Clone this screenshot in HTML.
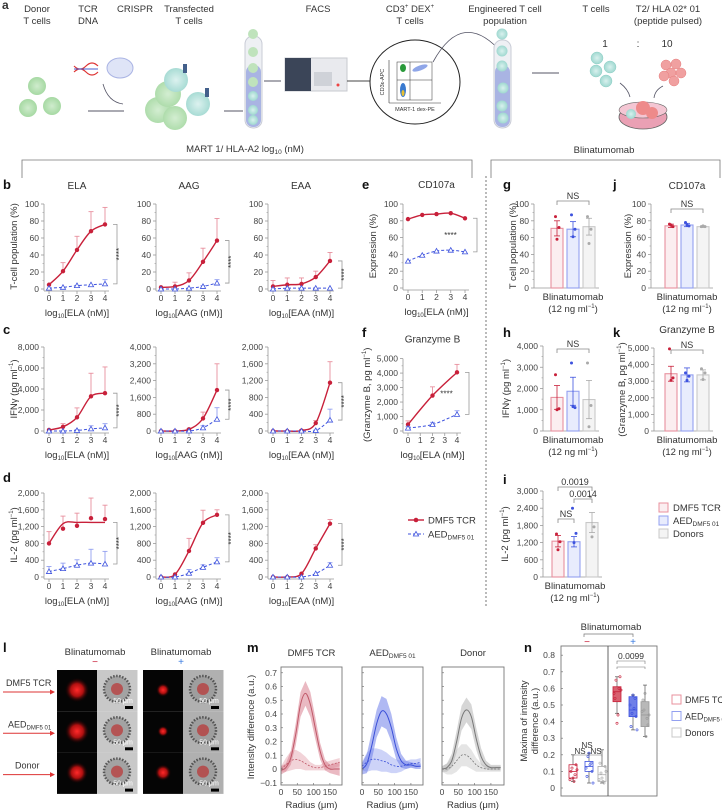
<!DOCTYPE html>
<html><head><meta charset="utf-8">
<style>
html,body{margin:0;padding:0;background:#fff;}
svg{display:block;font-family:"Liberation Sans",sans-serif;}
</style></head>
<body>
<svg id="fig" width="722" height="812" viewBox="0 0 722 812" xmlns="http://www.w3.org/2000/svg">
<defs>
<radialGradient id="gcell" cx="50%" cy="50%" r="50%"><stop offset="0" stop-color="#cfeccd"/><stop offset="1" stop-color="#a6d9a3"/></radialGradient>
<radialGradient id="tcell" cx="50%" cy="50%" r="50%"><stop offset="0" stop-color="#d9f1ee"/><stop offset="1" stop-color="#9fd8d0"/></radialGradient>
<radialGradient id="redblob" cx="50%" cy="50%" r="50%"><stop offset="0" stop-color="#ff2a2a"/><stop offset="0.5" stop-color="#b01010"/><stop offset="1" stop-color="#000" stop-opacity="0"/></radialGradient>
</defs>
<!-- schematic a -->
<g font-size="9.5" fill="#333" text-anchor="middle">
<text x="2" y="9" font-size="12" font-weight="bold" text-anchor="start">a</text>
<text x="37" y="12">Donor</text><text x="37" y="24">T cells</text>
<text x="88" y="12">TCR</text><text x="88" y="24">DNA</text>
<text x="135" y="12">CRISPR</text>
<text x="189" y="12">Transfected</text><text x="189" y="24">T cells</text>
<text x="318" y="12">FACS</text>
<text x="410" y="12">CD3<tspan font-size="6" dy="-4">+</tspan><tspan dy="4"> DEX</tspan><tspan font-size="6" dy="-4">+</tspan></text><text x="410" y="24">T cells</text>
<text x="505" y="12">Engineered T cell</text><text x="505" y="24">population</text>
<text x="596" y="12">T cells</text>
<text x="668" y="12">T2/ HLA 02* 01</text><text x="668" y="24">(peptide pulsed)</text>
<g fill="url(#gcell)"><circle cx="37" cy="86" r="9"/><circle cx="52" cy="106" r="9"/><circle cx="28" cy="108" r="9"/></g>
<g><path d="M74 72 q6 -6 12 0 t12 0 M74 66 q6 6 12 0 t12 0" stroke="#d33" stroke-width="1.2" fill="none"/><path d="M74 69 h24" stroke="#4a5fd0" stroke-width="1"/><ellipse cx="120" cy="68" rx="13" ry="10" fill="#dfe4f7" stroke="#aab4e4"/></g>
<path d="M103 84 q5 18 20 20" stroke="#556" fill="none" stroke-width="0.8"/>
<line x1="88" y1="111" x2="124" y2="111" stroke="#556" stroke-width="0.9"/>
<g fill="url(#gcell)" opacity="0.9"><circle cx="158" cy="110" r="13"/><circle cx="168" cy="94" r="13"/><circle cx="176" cy="80" r="12" fill="url(#tcell)"/><circle cx="198" cy="104" r="12" fill="url(#tcell)"/><circle cx="175" cy="118" r="12"/><rect x="183" y="64" width="4" height="9" fill="#2f4f7f"/><rect x="205" y="88" width="4" height="9" fill="#2f4f7f"/></g>
<line x1="224" y1="111" x2="243" y2="111" stroke="#556" stroke-width="0.9"/>
<g><rect x="245" y="36" width="17" height="92" rx="8" fill="#eef0f4" stroke="#c9ccd6"/><rect x="246" y="65" width="15" height="62" rx="7" fill="#a9b4e3"/><circle cx="253" cy="34" r="5" fill="#bfe3bc"/><circle cx="253" cy="52" r="5" fill="#bfe3bc"/><circle cx="253" cy="68" r="5" fill="#bfe3bc"/><circle cx="253" cy="82" r="5" fill="#bfe3bc"/><circle cx="253" cy="96" r="5" fill="url(#tcell)"/><circle cx="253" cy="110" r="5" fill="url(#tcell)"/><circle cx="253" cy="120" r="5" fill="url(#tcell)"/></g>
<line x1="264" y1="81" x2="281" y2="81" stroke="#556" stroke-width="0.9"/>
<g><rect x="285" y="58" width="62" height="33" fill="#e9eaee" stroke="#c7c9cf"/><rect x="285" y="58" width="26" height="33" fill="#3b4558"/><rect x="314" y="72" width="18" height="14" fill="#cfd2d8"/><circle cx="338" cy="85" r="1.5" fill="#e44"/></g>
<line x1="347" y1="81" x2="370" y2="81" stroke="#444" stroke-width="0.9"/>
<g><ellipse cx="415" cy="82" rx="45" ry="42" fill="#fff" stroke="#222" stroke-width="1"/><line x1="389" y1="60" x2="389" y2="103" stroke="#333" stroke-width="0.6"/><line x1="389" y1="103" x2="441" y2="103" stroke="#333" stroke-width="0.6"/><rect x="397" y="62" width="35" height="38" fill="none" stroke="#333" stroke-width="0.5"/><line x1="410" y1="62" x2="410" y2="100" stroke="#333" stroke-width="0.5"/><line x1="397" y1="80" x2="432" y2="80" stroke="#333" stroke-width="0.5"/><ellipse cx="403" cy="68" rx="3" ry="4" fill="#2a9a3a"/><ellipse cx="403" cy="90" rx="3" ry="7" fill="#3a7ad0"/><ellipse cx="403" cy="93" rx="1.5" ry="3" fill="#e8c030"/><ellipse cx="420" cy="68" rx="8" ry="2.5" fill="#8fa6e8" transform="rotate(-20 420 68)"/><text x="415" y="111" font-size="5.5">MART-1 dex-PE</text><text x="384" y="82" font-size="5.5" transform="rotate(-90 384 82)">CD3ε-APC</text></g>
<path d="M433 62 q30 -55 70 -8" stroke="#556" fill="none" stroke-width="0.8"/>
<g><rect x="494" y="40" width="17" height="88" rx="8" fill="#eef0f4" stroke="#c9ccd6"/><rect x="495" y="65" width="15" height="62" rx="7" fill="#a9b4e3"/><circle cx="502" cy="34" r="5.5" fill="url(#tcell)"/><circle cx="502" cy="51" r="5.5" fill="url(#tcell)"/><circle cx="502" cy="66" r="5.5" fill="url(#tcell)"/><circle cx="503" cy="88" r="5.5" fill="url(#tcell)"/><circle cx="502" cy="106" r="5.5" fill="url(#tcell)"/><circle cx="503" cy="118" r="5.5" fill="url(#tcell)"/></g>
<line x1="532" y1="73" x2="559" y2="73" stroke="#556" stroke-width="0.9"/>
<text x="605" y="47" font-size="10">1</text><text x="638" y="47" font-size="10">:</text><text x="667" y="47" font-size="10">10</text>
<g fill="url(#tcell)" stroke="#8fcfc6" stroke-width="0.5"><circle cx="597" cy="58" r="6"/><circle cx="610" cy="67" r="6"/><circle cx="596" cy="71" r="6"/><circle cx="606" cy="81" r="6"/></g>
<g fill="#f0a0a0" stroke="#e67c7c" stroke-width="0.5"><circle cx="666" cy="65" r="5"/><circle cx="676" cy="64" r="5"/><circle cx="671" cy="73" r="5"/><circle cx="681" cy="73" r="5"/><circle cx="664" cy="76" r="5"/><circle cx="674" cy="81" r="5"/></g>
<path d="M620 83 q8 6 10 14 M663 86 q-8 4 -9 12" stroke="#556" fill="none" stroke-width="0.8"/>
<g><ellipse cx="643" cy="117" rx="24" ry="12" fill="#eaa0b4" stroke="#666" stroke-width="0.8"/><ellipse cx="643" cy="110" rx="24" ry="8" fill="#f4c6d3" stroke="#666" stroke-width="0.6"/><circle cx="643" cy="108" r="7" fill="#ee8a8a"/><circle cx="652" cy="113" r="6" fill="#ee8a8a"/><circle cx="631" cy="114" r="5" fill="url(#tcell)"/></g>
</g>
<!-- brackets -->
<g stroke="#777" fill="none" stroke-width="0.8">
<path d="M22 178 V160 H472 V178"/><path d="M491 178 V160 H720 V178"/>
</g>
<text x="245" y="152" font-size="9.5" text-anchor="middle" fill="#333">MART 1/ HLA-A2 log<tspan font-size="6.5" dy="2">10</tspan><tspan dy="-2"> (nM)</tspan></text>
<text x="604" y="153" font-size="9.5" text-anchor="middle" fill="#333">Blinatumomab</text>
<line x1="486" y1="176" x2="486" y2="606" stroke="#555" stroke-width="0.8" stroke-dasharray="2,2"/>
</svg>
<script>
// ---------- data ----------
const doseX=[0,1,2,3,4];
const bElaRed=[5,21,46,68,76], bElaRedErr=[0,10,16,23,20], bElaBlue=[1,2,4,5,6], bElaBlueErr=[0,0,0,0,5];
const bAagRed=[2,3,10,32,57], bAagRedErr=[0,5,9,16,26], bAagBlue=[0,0,1,3,7], bAagBlueErr=[0,0,0,1,4];
const bEaaRed=[3,5,6,14,33], bEaaRedErr=[7,8,7,7,10], bEaaBlue=[0,1,1,1,1], bEaaBlueErr=[0,0,0,0,0];
const cElaRed=[100,400,1300,3300,3600], cElaRedErr=[0,300,900,2200,2500], cElaBlue=[0,0,50,200,300], cElaBlueErr=[0,0,100,300,400];
const cAagRed=[0,0,80,600,1950], cAagRedErr=[0,0,40,300,1250], cAagBlue=[0,0,0,150,560], cAagBlueErr=[0,0,30,100,550];
const cEaaRed=[0,0,10,190,1150], cEaaRedErr=[0,0,20,60,500], cEaaBlue=[0,0,0,10,260], cEaaBlueErr=[0,0,0,10,260];
const dElaRed=[800,1150,1220,1400,1380], dElaRedErr=[280,300,300,480,330], dElaRedFit=[800,1270,1300,1300,1300], dElaBlue=[130,200,280,330,310], dElaBlueErr=[120,130,130,330,300];
const dAagRed=[0,60,620,1290,1480], dAagRedErr=[0,0,300,300,120], dAagBlue=[0,0,90,230,360], dAagBlueErr=[0,0,90,60,100];
const dEaaRed=[0,0,80,680,1270], dEaaRedErr=[0,0,0,90,100], dEaaBlue=[0,0,0,80,280], dEaaBlueErr=[0,0,0,0,60];
const eRed=[82,87,88,89,83], eBlue=[32,39,44,45,43];
const fX=[0,2,4], fRed=[450,2450,4050], fRedErr=[250,600,550], fBlue=[200,450,1150], fBlueErr=[100,150,250];
const ticksPct=[0,20,40,60,80,100];
const ticksC1=[0,2000,4000,6000,8000], ticksC2=[0,800,1600,2400,3200,4000], ticksC3=[0,400,800,1200,1600,2000];
const ticksIL2=[0,400,800,1200,1600,2000], ticksF=[0,1000,2000,3000,4000,5000];
const gMeans=[71,70,73], gErr=[9,9,10], gDots=[[85,72,58],[87,70,61],[85,70,53]];
const jMeans=[74,75,73], jErr=[2,2,1], jDots=[[76,73,75],[78,74,75],[73,73,74]];
const hMeans=[1580,1870,1480], hErr=[560,660,900], hDots=[[2650,1050,1000],[3200,1100,1150],[3200,1200,200]];
const kMeans=[3450,3380,3380], kErr=[450,420,300], kDots=[[4950,3200,3050],[3500,3300,3050],[3750,3500,3100]];
const iMeans=[1250,1230,1900], iErr=[200,180,350], iDots=[[1500,1230,950],[2400,1520,1200],[2800,1750,1400]];
const ticksH=[0,1000,2000,3000,4000], ticksI=[0,600,1200,1800,2400,3000];
const mR=[0,15,30,45,60,75,90,105,120,135,150,165,180];
const mDmfSolid=[-0.01,0.01,0.08,0.25,0.47,0.55,0.47,0.30,0.13,0.03,0.0,0.0,0.0];
const mDmfSolidSd=[0.03,0.03,0.05,0.08,0.09,0.09,0.09,0.08,0.06,0.04,0.03,0.04,0.05];
const mDmfDash=[0,0.03,0.06,0.07,0.06,0.04,0.02,0.01,0.01,0.02,0.03,0.04,0.05];
const mDmfDashSd=[0.02,0.05,0.07,0.07,0.06,0.05,0.03,0.02,0.02,0.03,0.03,0.03,0.03];
const mAedSolid=[0.0,0.04,0.17,0.33,0.42,0.40,0.30,0.15,0.06,0.03,0.03,0.02,0.02];
const mAedSolidSd=[0.04,0.07,0.1,0.1,0.11,0.11,0.1,0.08,0.05,0.03,0.02,0.02,0.02];
const mAedDash=[0.02,0.05,0.07,0.07,0.06,0.05,0.03,0.02,0.02,0.03,0.04,0.04,0.05];
const mAedDashSd=[0.03,0.07,0.08,0.08,0.08,0.07,0.06,0.05,0.04,0.03,0.03,0.03,0.03];
const mDonSolid=[0,0.01,0.06,0.2,0.37,0.43,0.38,0.22,0.09,0.03,0.01,0.01,0.01];
const mDonSolidSd=[0.02,0.03,0.05,0.08,0.09,0.09,0.09,0.08,0.06,0.03,0.02,0.02,0.02];
const mDonDash=[0,0,0.02,0.06,0.1,0.1,0.07,0.03,0.01,0,0,0,0];
const mDonDashSd=[0.02,0.04,0.06,0.08,0.08,0.08,0.07,0.05,0.03,0.02,0.02,0.02,0.02];
const mTicksY=[-0.1,0,0.1,0.2,0.3,0.4,0.5,0.6,0.7], mTicksX=[0,50,100,150];
const nTicks=[0,0.1,0.2,0.3,0.4,0.5,0.6,0.7,0.8];
const nBoxLo=[0.04,0.03,0.03,0.45,0.35,0.31], nQ1=[0.06,0.10,0.04,0.52,0.43,0.37], nMed=[0.10,0.13,0.08,0.58,0.47,0.44], nQ3=[0.14,0.16,0.13,0.61,0.55,0.52], nBoxHi=[0.20,0.21,0.23,0.67,0.56,0.62];
const nDots=[[0.05,0.08,0.12,0.14,0.10,0.04,0.06,0.11],[0.12,0.15,0.19,0.10,0.07,0.14,0.21,0.03],[0.05,0.03,0.09,0.13,0.15,0.04,0.06,0.10],[0.57,0.60,0.65,0.67,0.54,0.44,0.39,0.59],[0.50,0.54,0.45,0.43,0.37,0.48,0.56,0.35],[0.46,0.42,0.47,0.38,0.53,0.31,0.57,0.44]];

// ---------- helpers ----------
const NS='http://www.w3.org/2000/svg';
const svg=document.getElementById('fig');
const RED='#c8203a', RED_L='#e8909e', BLUE='#3d52de', BLUE_L='#93a0f0', GREY='#999', GREY_L='#c8c8c8';
function mk(tag,attrs,name,parent){
  const el=document.createElementNS(NS,tag);
  for(const k in attrs) el.setAttribute(k,attrs[k]);
  
  
  (parent||svg).appendChild(el);
  return el;
}
function txt(x,y,s,o,name,parent){
  o=o||{};
  const a={x:x,y:y,'font-size':o.size||8.5,'text-anchor':o.anchor||'middle',fill:o.fill||'#444'};
  if(o.weight) a['font-weight']=o.weight;
  if(o.rot) a.transform='rotate(-90 '+x+' '+y+')';
  const el=mk('text',a,name,parent);
  el.innerHTML=s;
  return el;
}
function fmt(v){return v.toLocaleString('en-US');}
function smooth(pts){
  let d='M'+pts[0][0]+','+pts[0][1];
  for(let i=0;i<pts.length-1;i++){
    const p0=pts[Math.max(i-1,0)],p1=pts[i],p2=pts[i+1],p3=pts[Math.min(i+2,pts.length-1)];
    const c1x=p1[0]+(p2[0]-p0[0])/6,c1y=p1[1]+(p2[1]-p0[1])/6,c2x=p2[0]-(p3[0]-p1[0])/6,c2y=p2[1]-(p3[1]-p1[1])/6;
    d+=' C'+c1x+','+c1y+' '+c2x+','+c2y+' '+p2[0]+','+p2[1];
  }
  return d;
}
const sub10=(s)=>'log<tspan font-size="6" dy="2">10</tspan><tspan dy="-2">'+s+'</tspan>';

function linePlot(p){
  const xs=p.xs||doseX;
  const sx=v=>p.x0+v/4*(p.x4-p.x0);
  const sy=v=>p.yB-v/p.ymax*(p.yB-p.yT);
  const g=mk('g',{},p.name);
  const ax=p.x0-5;
  mk('line',{x1:ax,y1:p.yT,x2:ax,y2:p.yB+2,stroke:'#999','stroke-width':0.8},'y-axis',g);
  p.ticks.forEach((t,i)=>{
    mk('line',{x1:ax-3,y1:sy(t),x2:ax,y2:sy(t),stroke:'#999','stroke-width':0.8},'y-tick',g);
    if(i<p.ticks.length-1){const m=(t+p.ticks[i+1])/2;mk('line',{x1:ax-1.5,y1:sy(m),x2:ax,y2:sy(m),stroke:'#999','stroke-width':0.6},'y-minor-tick',g);}
    txt(ax-5,sy(t)+3,fmt(t),{anchor:'end'},'y-tick-label',g);
  });
  mk('line',{x1:ax,y1:p.yB+2,x2:p.x4+4,y2:p.yB+2,stroke:'#999','stroke-width':0.8},'x-axis',g);
  [0,1,2,3,4].forEach(v=>{
    mk('line',{x1:sx(v),y1:p.yB+2,x2:sx(v),y2:p.yB+5,stroke:'#999','stroke-width':0.8},'x-tick',g);
    txt(sx(v),p.yB+12,String(v),{},'x-tick-label',g);
  });
  txt((p.x0+p.x4)/2,p.yB+27,sub10(p.xlab),{size:9.5,fill:'#333'},'x-axis-title',g);
  if(p.ylab) txt(p.ylx,(p.yT+p.yB)/2,p.ylab,{size:9.5,rot:1,fill:'#333'},'y-axis-title',g);
  if(p.title) txt((p.x0+p.x4)/2,p.yT-16,p.title,{size:10,fill:'#333'},'panel-title',g);
  [[p.red,p.redErr,RED_L],[p.blue,p.blueErr,BLUE_L]].forEach(([m,e,c])=>{
    if(!e) return;
    m.forEach((v,i)=>{ if(e[i]>0){
      mk('line',{x1:sx(xs[i]),y1:sy(v),x2:sx(xs[i]),y2:sy(v+e[i]),stroke:c,'stroke-width':0.9},'error-bar',g);
      mk('line',{x1:sx(xs[i])-2.5,y1:sy(v+e[i]),x2:sx(xs[i])+2.5,y2:sy(v+e[i]),stroke:c,'stroke-width':0.9},'error-cap',g);
    }});
  });
  const rf=p.redFit||p.red;
  mk('path',{d:smooth(rf.map((v,i)=>[sx(xs[i]),sy(v)])),stroke:RED,'stroke-width':1.4,fill:'none'},'dmf5-fit-line',g);
  mk('path',{d:smooth(p.blue.map((v,i)=>[sx(xs[i]),sy(v)])),stroke:BLUE,'stroke-width':1,fill:'none','stroke-dasharray':'3,2'},'aed-fit-line',g);
  p.red.forEach((v,i)=>mk('circle',{cx:sx(xs[i]),cy:sy(v),r:2.2,fill:RED},'dmf5-point',g));
  p.blue.forEach((v,i)=>{const x=sx(xs[i]),y=sy(v);mk('path',{d:'M'+x+','+(y-2.6)+' L'+(x+2.6)+','+(y+2)+' L'+(x-2.6)+','+(y+2)+'Z',fill:'#fff',stroke:BLUE,'stroke-width':0.8},'aed-point',g);});
  const top=sy(rf[rf.length-1]), bot=sy(p.blue[p.blue.length-1]);
  const bx=p.x4+12;
  mk('path',{d:'M'+(bx-4)+','+top+' H'+bx+' V'+bot+' H'+(bx-4),stroke:'#999',fill:'none','stroke-width':0.8},'significance-bracket',g);
  if(p.starsH) txt((p.x0+p.x4)/2+14,(top+bot)/2+3,'****',{size:8,fill:'#333'},'significance-stars',g);
  else txt(bx+5,(top+bot)/2,'****',{size:8,rot:1,fill:'#333'},'significance-stars',g);
}

function barPlot(p){
  const sy=v=>p.yB-v/p.ymax*(p.yB-p.yT);
  const g=mk('g',{},p.name);
  const ax=p.ax;
  mk('line',{x1:ax,y1:p.yT,x2:ax,y2:p.yB,stroke:'#999','stroke-width':0.8},'y-axis',g);
  p.ticks.forEach((t,i)=>{
    mk('line',{x1:ax-3,y1:sy(t),x2:ax,y2:sy(t),stroke:'#999','stroke-width':0.8},'y-tick',g);
    if(i<p.ticks.length-1){const m=(t+p.ticks[i+1])/2;mk('line',{x1:ax-1.5,y1:sy(m),x2:ax,y2:sy(m),stroke:'#999','stroke-width':0.6},'y-minor-tick',g);}
    txt(ax-5,sy(t)+3,fmt(t),{anchor:'end'},'y-tick-label',g);
  });
  mk('line',{x1:ax,y1:p.yB,x2:p.cx[2]+10,y2:p.yB,stroke:'#999','stroke-width':0.8},'x-axis',g);
  const cols=[[RED_L,'#fbeef0',RED],[BLUE_L,'#e8ecfd',BLUE],[GREY_L,'#f4f4f4','#aaa']];
  const nm=['bar-dmf5','bar-aed','bar-donors'];
  p.means.forEach((v,i)=>{
    const c=p.cx[i];
    mk('rect',{x:c-6,y:sy(v),width:12,height:p.yB-sy(v),fill:cols[i][1],stroke:cols[i][0],'stroke-width':1.1},nm[i],g);
    mk('line',{x1:c,y1:sy(v-p.err[i]),x2:c,y2:sy(v+p.err[i]),stroke:cols[i][2],'stroke-width':0.8},'error-bar',g);
    mk('line',{x1:c-3,y1:sy(v+p.err[i]),x2:c+3,y2:sy(v+p.err[i]),stroke:cols[i][2],'stroke-width':0.8},'error-cap',g);
    mk('line',{x1:c-3,y1:sy(v-p.err[i]),x2:c+3,y2:sy(v-p.err[i]),stroke:cols[i][2],'stroke-width':0.8},'error-cap',g);
    p.dots[i].forEach((d,k)=>mk('circle',{cx:c+[-1.5,2,0][k],cy:sy(d),r:1.5,fill:cols[i][2]},'data-dot',g));
  });
  const mid=(p.cx[0]+p.cx[2])/2;
  txt(mid,p.yB+12,'Blinatumomab',{size:9.5,fill:'#333'},'x-axis-title',g);
  txt(mid,p.yB+24,'(12 ng ml<tspan font-size="6" dy="-4">−1</tspan><tspan dy="4">)</tspan>',{size:9.5,fill:'#333'},'x-axis-subtitle',g);
  txt(p.ylx,(p.yT+p.yB)/2,p.ylab,{size:9.5,rot:1,fill:'#333'},'y-axis-title',g);
  if(p.title) txt(mid,p.titleY,p.title,{size:10,fill:'#333'},'panel-title',g);
  (p.brackets||[]).forEach(b=>{
    const x1=p.cx[b[0]],x2=p.cx[b[1]],y=b[2];
    mk('path',{d:'M'+x1+','+(y+4)+' V'+y+' H'+x2+' V'+(y+4),stroke:'#888',fill:'none','stroke-width':0.8},'significance-bracket',g);
    txt((x1+x2)/2,y-2,b[3],{size:9,fill:'#333'},'significance-label',g);
  });
}

// ---------- panel letters & column titles ----------
[['b',3,189],['c',3,334],['d',3,482],['e',362,189],['f',362,337],['g',503,189],['h',503,337],['i',503,484],['j',613,189],['k',613,337],['l',3,652],['m',247,652],['n',524,652]].forEach(l=>txt(l[1],l[2],l[0],{size:13,weight:'bold',anchor:'start',fill:'#111'},'panel-label-'+l[0]));
txt(77,189,'ELA',{size:10,fill:'#333'},'column-title-ela');
txt(189,189,'AAG',{size:10,fill:'#333'},'column-title-aag');
txt(301,189,'EAA',{size:10,fill:'#333'},'column-title-eaa');

// ---------- dose-response ----------
linePlot({name:'plot-b-ela',x0:49,x4:105,yT:204,yB:289,ymax:100,ticks:ticksPct,red:bElaRed,redErr:bElaRedErr,blue:bElaBlue,blueErr:bElaBlueErr,xlab:'[ELA (nM)]',ylab:'T-cell population (%)',ylx:17});
linePlot({name:'plot-b-aag',x0:161,x4:217,yT:204,yB:289,ymax:100,ticks:ticksPct,red:bAagRed,redErr:bAagRedErr,blue:bAagBlue,blueErr:bAagBlueErr,xlab:'[AAG (nM)]'});
linePlot({name:'plot-b-eaa',x0:273,x4:330,yT:204,yB:289,ymax:100,ticks:ticksPct,red:bEaaRed,redErr:bEaaRedErr,blue:bEaaBlue,blueErr:bEaaBlueErr,xlab:'[EAA (nM)]'});
linePlot({name:'plot-c-ela',x0:49,x4:105,yT:347,yB:431,ymax:8000,ticks:ticksC1,red:cElaRed,redErr:cElaRedErr,blue:cElaBlue,blueErr:cElaBlueErr,xlab:'[ELA (nM)]',ylab:'IFNγ (pg ml<tspan font-size="6" dy="-4">−1</tspan><tspan dy="4">)</tspan>',ylx:17});
linePlot({name:'plot-c-aag',x0:161,x4:217,yT:347,yB:431,ymax:4000,ticks:ticksC2,red:cAagRed,redErr:cAagRedErr,blue:cAagBlue,blueErr:cAagBlueErr,xlab:'[AAG (nM)]'});
linePlot({name:'plot-c-eaa',x0:273,x4:330,yT:347,yB:431,ymax:2000,ticks:ticksC3,red:cEaaRed,redErr:cEaaRedErr,blue:cEaaBlue,blueErr:cEaaBlueErr,xlab:'[EAA (nM)]'});
linePlot({name:'plot-d-ela',x0:49,x4:105,yT:493,yB:577,ymax:2000,ticks:ticksIL2,red:dElaRed,redErr:dElaRedErr,redFit:dElaRedFit,blue:dElaBlue,blueErr:dElaBlueErr,xlab:'[ELA (nM)]',ylab:'IL-2 (pg ml<tspan font-size="6" dy="-4">−1</tspan><tspan dy="4">)</tspan>',ylx:17});
linePlot({name:'plot-d-aag',x0:161,x4:217,yT:493,yB:577,ymax:2000,ticks:ticksIL2,red:dAagRed,redErr:dAagRedErr,blue:dAagBlue,blueErr:dAagBlueErr,xlab:'[AAG (nM)]'});
linePlot({name:'plot-d-eaa',x0:273,x4:330,yT:493,yB:577,ymax:2000,ticks:ticksIL2,red:dEaaRed,redErr:dEaaRedErr,blue:dEaaBlue,blueErr:dEaaBlueErr,xlab:'[EAA (nM)]'});
linePlot({name:'plot-e-cd107a',x0:408,x4:465,yT:204,yB:288,ymax:100,ticks:ticksPct,red:eRed,blue:eBlue,xlab:'[ELA (nM)]',ylab:'Expression (%)',ylx:376,title:'CD107a',starsH:1});
linePlot({name:'plot-f-granzyme',xs:fX,x0:408,x4:457,yT:358.6,yB:431,ymax:5000,ticks:ticksF,red:fRed,redErr:fRedErr,blue:fBlue,blueErr:fBlueErr,xlab:'[ELA (nM)]',ylab:'(Granzyme B, pg ml<tspan font-size="6" dy="-4">−1</tspan><tspan dy="4">)</tspan>',ylx:370,title:'Granzyme B',starsH:1});

// legend f
const lg=mk('g',{},'legend-dose-response');
mk('line',{x1:408,y1:520,x2:424,y2:520,stroke:RED,'stroke-width':1.4},'legend-dmf5-line',lg);
mk('circle',{cx:416,cy:520,r:2.3,fill:RED},'legend-dmf5-marker',lg);
txt(428,523.5,'DMF5 TCR',{size:9.5,anchor:'start',fill:'#333'},'legend-dmf5-label',lg);
mk('line',{x1:408,y1:534,x2:424,y2:534,stroke:BLUE,'stroke-width':1,'stroke-dasharray':'3,2'},'legend-aed-line',lg);
mk('path',{d:'M416,531.4 L418.6,536 L413.4,536Z',fill:'#fff',stroke:BLUE,'stroke-width':0.8},'legend-aed-marker',lg);
txt(428,537.5,'AED<tspan font-size="6.5" dy="2">DMF5 01</tspan>',{size:9.5,anchor:'start',fill:'#333'},'legend-aed-label',lg);

// ---------- bar panels ----------
barPlot({name:'plot-g-tcell',ax:534,yT:204,yB:288,ymax:100,ticks:ticksPct,means:gMeans,err:gErr,dots:gDots,cx:[557,573,589],ylab:'T cell population (%)',ylx:516,brackets:[[0,2,201,'NS']]});
barPlot({name:'plot-j-cd107a',ax:651,yT:204,yB:288,ymax:100,ticks:ticksPct,means:jMeans,err:jErr,dots:jDots,cx:[671,687,703],ylab:'Expression (%)',ylx:631,title:'CD107a',titleY:189,brackets:[[0,2,209,'NS']]});
barPlot({name:'plot-h-ifng',ax:543,yT:346,yB:431,ymax:4000,ticks:ticksH,means:hMeans,err:hErr,dots:hDots,cx:[557,573,589],ylab:'IFNγ (pg ml<tspan font-size="6" dy="-4">−1</tspan><tspan dy="4">)</tspan>',ylx:509,brackets:[[0,2,349,'NS']]});
barPlot({name:'plot-k-granzyme',ax:654,yT:348,yB:431,ymax:5000,ticks:ticksF,means:kMeans,err:kErr,dots:kDots,cx:[671,687,703],ylab:'(Granzyme B, pg ml<tspan font-size="6" dy="-4">−1</tspan><tspan dy="4">)</tspan>',ylx:625,title:'Granzyme B',titleY:333,brackets:[[0,2,350,'NS']]});
barPlot({name:'plot-i-il2',ax:543,yT:491,yB:577,ymax:3000,ticks:ticksI,means:iMeans,err:iErr,dots:iDots,cx:[558,574,592],ylab:'IL-2 (pg ml<tspan font-size="6" dy="-4">−1</tspan><tspan dy="4">)</tspan>',ylx:508,brackets:[[0,1,519,'NS'],[1,2,499,'0.0014'],[0,2,487,'0.0019']]});
const lg2=mk('g',{},'legend-bars');
[['DMF5 TCR',RED_L,'#fbeef0'],['AED<tspan font-size="6.5" dy="2">DMF5 01</tspan>',BLUE_L,'#e8ecfd'],['Donors',GREY_L,'#f4f4f4']].forEach((e,i)=>{
  mk('rect',{x:659,y:503+i*13,width:9,height:9,fill:e[2],stroke:e[1],'stroke-width':1},'legend-swatch',lg2);
  txt(673,511+i*13,e[0],{size:9.5,anchor:'start',fill:'#333'},'legend-label',lg2);
});

// ---------- panel l: microscopy ----------
const lgp=mk('g',{},'panel-l-microscopy');
txt(95,655,'Blinatumomab',{size:9.5,fill:'#333'},'condition-label-minus',lgp);
txt(95,665,'−',{size:10,fill:RED},'minus-sign',lgp);
txt(181,655,'Blinatumomab',{size:9.5,fill:'#333'},'condition-label-plus',lgp);
txt(181,665,'+',{size:10,fill:'#3a7be0'},'plus-sign',lgp);
const rowsL=['DMF5 TCR','AED<tspan font-size="6" dy="2">DMF5 01</tspan>','Donor'];
const blobR=[[9,5],[9,4],[8,6]];
rowsL.forEach((r,i)=>{
  const y0=670+i*41.3, cy=y0+20;
  txt(i==1?8:(i==2?15:6),cy-4,r,{size:9,anchor:'start',fill:'#333'},'row-label',lgp);
  mk('line',{x1:3,y1:cy+2,x2:50,y2:cy+2,stroke:'#d33','stroke-width':1},'row-arrow',lgp);
  mk('path',{d:'M50,'+(cy-0.5)+' L55,'+(cy+2)+' L50,'+(cy+4.5)+'Z',fill:'#d33'},'row-arrowhead',lgp);
  [[57,blobR[i][0]],[143,blobR[i][1]]].forEach((c,k)=>{
    mk('rect',{x:c[0],y:y0,width:40,height:41.3,fill:'#050505'},'fluorescence-image',lgp);
    mk('circle',{cx:c[0]+20,cy:cy,r:c[1]*1.4,fill:'url(#redblob)'},'fluorescence-signal',lgp);
    mk('rect',{x:c[0]+40,y:y0,width:40.5,height:41.3,fill:k?'#b0b0b0':'#c8c8c8'},'brightfield-image',lgp);
    mk('circle',{cx:c[0]+60,cy:cy-1,r:13,fill:'#9a9a9a',stroke:'#3a3a3a','stroke-width':2.5,'stroke-dasharray':'1.5,1.5',opacity:0.8},'spheroid',lgp);
    mk('circle',{cx:c[0]+60,cy:cy-1,r:6,fill:'#c02020',opacity:0.6},'spheroid-signal',lgp);
    mk('rect',{x:c[0]+68,y:y0+36,width:8,height:3,fill:'#000'},'scale-bar',lgp);
    txt(c[0]+66,y0+33,'50 μm',{size:7,fill:'#fff'},'scale-label',lgp);
  });
});

// ---------- panel m ----------
const mPanels=[
 {name:'plot-m-dmf5',x0:281,x1:342,title:'DMF5 TCR',s:mDmfSolid,ssd:mDmfSolidSd,d:mDmfDash,dsd:mDmfDashSd,c:'#c05868',f:'#d98090'},
 {name:'plot-m-aed',x0:362,x1:423,title:'AED<tspan font-size="6.5" dy="2">DMF5 01</tspan>',s:mAedSolid,ssd:mAedSolidSd,d:mAedDash,dsd:mAedDashSd,c:'#3a4fd8',f:'#6f80ea'},
 {name:'plot-m-donor',x0:442,x1:504,title:'Donor',s:mDonSolid,ssd:mDonSolidSd,d:mDonDash,dsd:mDonDashSd,c:'#777',f:'#b5b5b5'}];
const myT=667,myB=785;
const msy=v=>769-v*137.5;
mPanels.forEach((p,pi)=>{
  const g=mk('g',{},p.name);
  const msx=v=>p.x0+v*(16.3/50);
  const band=(m,sd)=>{let up=m.map((v,i)=>[msx(mR[i]),msy(v+sd[i])]),lo=m.map((v,i)=>[msx(mR[i]),msy(v-sd[i])]).reverse();return 'M'+up.map(q=>q.join(',')).join(' L')+' L'+lo.map(q=>q.join(',')).join(' L')+'Z';};
  mk('path',{d:band(p.d,p.dsd),fill:p.f,opacity:0.35},'dashed-band',g);
  mk('path',{d:band(p.s,p.ssd),fill:p.f,opacity:0.55},'solid-band',g);
  mk('path',{d:smooth(p.d.map((v,i)=>[msx(mR[i]),msy(v)])),stroke:p.c,'stroke-width':0.8,fill:'none','stroke-dasharray':'2,1.5'},'dashed-mean-line',g);
  mk('path',{d:smooth(p.s.map((v,i)=>[msx(mR[i]),msy(v)])),stroke:p.c,'stroke-width':1,fill:'none'},'solid-mean-line',g);
  mk('rect',{x:p.x0,y:myT,width:p.x1-p.x0,height:myB-myT,fill:'none',stroke:'#777','stroke-width':0.9},'plot-frame',g);
  txt((p.x0+p.x1)/2,656,p.title,{size:9.5,fill:'#333'},'panel-title',g);
  mTicksX.forEach(t=>{mk('line',{x1:msx(t),y1:myB,x2:msx(t),y2:myB-2,stroke:'#777','stroke-width':0.7},'x-tick',g);txt(msx(t),795,String(t),{},'x-tick-label',g);});
  txt((p.x0+p.x1)/2,808,'Radius (μm)',{size:9.5,fill:'#333'},'x-axis-title',g);
  mTicksY.forEach(t=>{mk('line',{x1:p.x0,y1:msy(t),x2:p.x0+2,y2:msy(t),stroke:'#777','stroke-width':0.7},'y-tick',g);if(pi==0)txt(p.x0-4,msy(t)+3,(t<0?'−':'')+String(Math.abs(t)),{anchor:'end'},'y-tick-label',g);});
});
txt(254,727,'Intensity difference (a.u.)',{size:9.5,rot:1,fill:'#333'},'m-y-axis-title');

// ---------- panel n ----------
const ng=mk('g',{},'plot-n-boxplot');
const nsy=v=>788-v*166;
const nCx=[573,589,602,617,633,645];
const nCol=[[RED,'#fff'],[BLUE,'#fff'],['#aaa','#fff'],[RED,'#d8606f'],[BLUE,'#6f7fe8'],['#999','#b8b8b8']];
mk('rect',{x:561,y:646,width:96,height:150,fill:'none',stroke:'#777','stroke-width':0.9},'plot-frame',ng);
mk('line',{x1:608,y1:646,x2:608,y2:796,stroke:'#555','stroke-width':0.9},'group-divider',ng);
nTicks.forEach(t=>{mk('line',{x1:561,y1:nsy(t),x2:563,y2:nsy(t),stroke:'#777','stroke-width':0.7},'y-tick',ng);txt(555,nsy(t)+3,String(t),{anchor:'end'},'y-tick-label',ng);});
txt(527,721,'Maxima of intensity',{size:9.5,rot:1,fill:'#333'},'y-axis-title',ng);
txt(538,721,'difference (a.u.)',{size:9.5,rot:1,fill:'#333'},'y-axis-title-2',ng);
nCx.forEach((c,i)=>{
  const col=nCol[i];
  mk('line',{x1:c,y1:nsy(nBoxLo[i]),x2:c,y2:nsy(nBoxHi[i]),stroke:'#555','stroke-width':0.7},'whisker',ng);
  mk('line',{x1:c-2,y1:nsy(nBoxHi[i]),x2:c+2,y2:nsy(nBoxHi[i]),stroke:'#555','stroke-width':0.7},'whisker-cap',ng);
  mk('line',{x1:c-2,y1:nsy(nBoxLo[i]),x2:c+2,y2:nsy(nBoxLo[i]),stroke:'#555','stroke-width':0.7},'whisker-cap',ng);
  mk('rect',{x:c-4,y:nsy(nQ3[i]),width:8,height:nsy(nQ1[i])-nsy(nQ3[i]),fill:col[1],stroke:col[0],'stroke-width':0.8},'box',ng);
  mk('line',{x1:c-4,y1:nsy(nMed[i]),x2:c+4,y2:nsy(nMed[i]),stroke:col[0],'stroke-width':0.8},'median-line',ng);
  nDots[i].forEach((d,k)=>mk('circle',{cx:c+[-3,2,-1,3,-2,1,0,4][k],cy:nsy(d),r:1.1,fill:'none',stroke:col[0],'stroke-width':0.6},'data-point',ng));
});
txt(587,748,'NS',{size:8,fill:'#333'},'ns-label-top',ng);
txt(580,754,'NS',{size:8,fill:'#333'},'ns-label-1',ng);
txt(596,754,'NS',{size:8,fill:'#333'},'ns-label-2',ng);
mk('path',{d:'M573,757 V755 H602 V757',stroke:'#777',fill:'none','stroke-width':0.6},'ns-bracket',ng);
txt(631,659,'0.0099',{size:8.5,fill:'#333'},'pvalue-label',ng);
mk('path',{d:'M617,664 V661 H645 V664 M617,669 V667 H645 V669',stroke:'#777',fill:'none','stroke-width':0.6},'pvalue-bracket',ng);
txt(611,630,'Blinatumomab',{size:9.5,fill:'#333'},'n-header',ng);
mk('path',{d:'M584,637 V634 H633 V637',stroke:'#777',fill:'none','stroke-width':0.7},'n-header-bracket',ng);
txt(587,645,'−',{size:10,fill:RED},'n-minus',ng);
txt(633,645,'+',{size:10,fill:'#3a7be0'},'n-plus',ng);
const lg3=mk('g',{},'legend-n');
[['DMF5 TCR',RED_L],['AED<tspan font-size="6" dy="2">DMF5 01</tspan>',BLUE_L],['Donors',GREY_L]].forEach((e,i)=>{
  mk('rect',{x:672,y:695+i*16.5,width:9,height:9,fill:'#fff',stroke:e[1],'stroke-width':1},'legend-swatch',lg3);
  txt(685,703+i*16.5,e[0],{size:9,anchor:'start',fill:'#333'},'legend-label',lg3);
});
</script>
</body></html>
